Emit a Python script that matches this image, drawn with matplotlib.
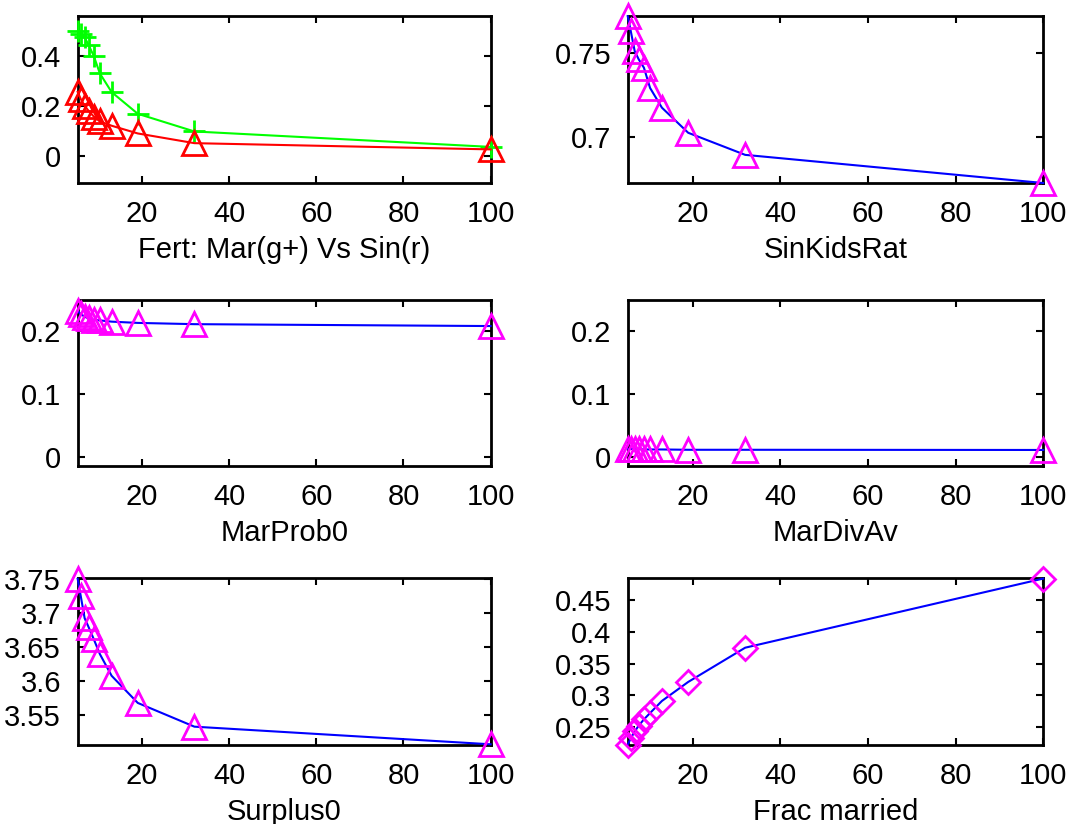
import numpy as np
import matplotlib
matplotlib.use("Agg")
import matplotlib.pyplot as plt
from matplotlib.ticker import FuncFormatter

# x values (shared by every panel)
x = [5.2, 5.9, 6.8, 7.7, 8.9, 10.3, 13.0, 19, 32, 100]

fert_mar = [0.50, 0.49, 0.475, 0.445, 0.40, 0.33, 0.255, 0.168, 0.097, 0.035]
fert_sin = [0.256, 0.228, 0.20, 0.18, 0.157, 0.137, 0.12, 0.089, 0.05, 0.025]
sin_kids_rat = [0.7716, 0.7627, 0.7508, 0.746, 0.741, 0.729, 0.7173, 0.7024, 0.6893, 0.6726]
mar_prob0 = [0.232, 0.227, 0.223, 0.220, 0.218, 0.217, 0.215, 0.213, 0.211, 0.208]
mar_div_av = [0.013, 0.013, 0.0125, 0.0125, 0.012, 0.012, 0.012, 0.0115, 0.0115, 0.0112]
surplus0 = [3.751, 3.726, 3.693, 3.68, 3.662, 3.64, 3.608, 3.568, 3.533, 3.507]
frac_married = [0.222, 0.232, 0.243, 0.252, 0.262, 0.272, 0.291, 0.321, 0.375, 0.484]

plt.rcParams['font.family'] = ['Liberation Sans', 'DejaVu Sans']
plt.rcParams['font.size'] = 21

fig = plt.figure(figsize=(10.71, 8.24), dpi=100)

lefts = [0.0725, 0.5861]
widths = [0.3856, 0.388]
bottoms = [0.7779, 0.4339, 0.0959]
height = 0.2025


def make_ax(row, col):
    ax = fig.add_axes([lefts[col], bottoms[row], widths[col], height])
    ax.tick_params(direction='in', length=5, width=1.5, top=True, right=True,
                   pad=12, labelsize=21)
    for s in ax.spines.values():
        s.set_linewidth(2)
    ax.set_xlim(5.2, 100)
    ax.set_xticks([20, 40, 60, 80, 100])
    ax.yaxis.set_major_formatter(FuncFormatter(lambda v, p: '%g' % round(v, 4)))
    ax.xaxis.labelpad = 6
    return ax


mk = dict(markersize=17, markeredgewidth=2, markerfacecolor='none', linewidth=1.5,
          clip_on=False, zorder=3)

# Fertility
ax = make_ax(0, 0)
ax.plot(x, fert_mar, color=(0, 1, 0), marker='+', markersize=16, markeredgewidth=2,
        linewidth=1.5, clip_on=False, zorder=3)
ax.plot(x, fert_sin, color=(1, 0, 0), marker='^', markeredgecolor=(1, 0, 0), **mk)
ax.set_ylim(-0.11, 0.56)
ax.set_yticks([0, 0.2, 0.4])
ax.set_xlabel('Fert: Mar(g+) Vs Sin(r)')

ax = make_ax(0, 1)
ax.plot(x, sin_kids_rat, color='b', marker='^', markeredgecolor=(1, 0, 1), **mk)
ax.set_ylim(0.6726, 0.7716)
ax.set_yticks([0.7, 0.75])
ax.set_xlabel('SinKidsRat')

ax = make_ax(1, 0)
ax.plot(x, mar_prob0, color='b', marker='^', markeredgecolor=(1, 0, 1), **mk)
ax.set_ylim(-0.015, 0.25)
ax.set_yticks([0, 0.1, 0.2])
ax.set_xlabel('MarProb0')

ax = make_ax(1, 1)
ax.plot(x, mar_div_av, color='b', marker='^', markeredgecolor=(1, 0, 1), **mk)
ax.set_ylim(-0.015, 0.25)
ax.set_yticks([0, 0.1, 0.2])
ax.set_xlabel('MarDivAv')

ax = make_ax(2, 0)
ax.plot(x, surplus0, color='b', marker='^', markeredgecolor=(1, 0, 1), **mk)
ax.set_ylim(3.506, 3.752)
ax.set_yticks([3.55, 3.6, 3.65, 3.7, 3.75])
ax.set_xlabel('Surplus0')

ax = make_ax(2, 1)
ax.plot(x, frac_married, color='b', marker='D', markeredgecolor=(1, 0, 1),
        markersize=12, markeredgewidth=2, markerfacecolor='none', linewidth=1.5,
        clip_on=False, zorder=3)
ax.set_ylim(0.2216, 0.4847)
ax.set_yticks([0.25, 0.3, 0.35, 0.4, 0.45])
ax.set_xlabel('Frac married')

fig.savefig('out.png', dpi=100)
